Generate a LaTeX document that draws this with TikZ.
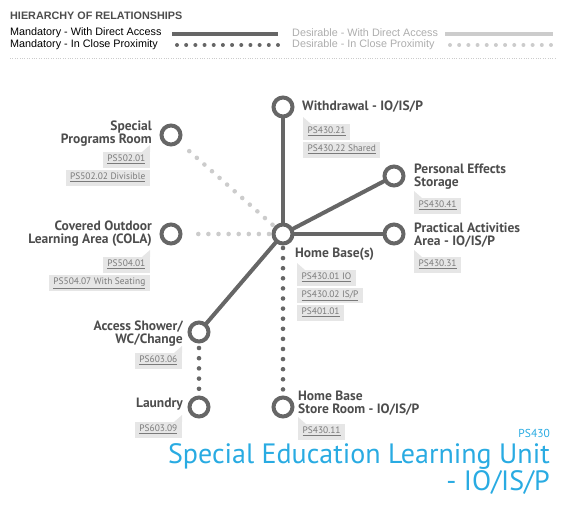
\documentclass[tikz,border=0pt]{standalone}
\usepackage{fontspec}
\usepackage{tikz}
\setmainfont{PT Sans}
\newfontfamily\legendfont{Liberation Sans}
\definecolor{linkgray}{HTML}{666666}
\definecolor{softgray}{HTML}{CCCCCC}
\definecolor{tagfill}{HTML}{E6E6E6}
\definecolor{tagtext}{HTML}{7A7A7A}
\definecolor{labelgray}{HTML}{4D4D4D}
\definecolor{titleblue}{HTML}{29ABE2}
\newcommand{\notchleft}[1]{\fill[tagfill] (#1.north west) -- ++(0,-7) -- ++(8,7) -- cycle;}
\newcommand{\notchright}[1]{\fill[tagfill] (#1.north east) -- ++(0,-7) -- ++(-8,7) -- cycle;}

\begin{document}
\begin{tikzpicture}[x=1pt,y=-1pt,
		room/.style={circle,draw=linkgray,fill=white,line width=4pt,minimum size=19pt,inner sep=0pt},
		roomlabel/.style={inner sep=0pt,text=labelgray,font=\fontsize{13.5}{13}\selectfont\bfseries},
		pstag/.style={fill=tagfill,text=tagtext,inner xsep=4.5pt,inner ysep=0pt,minimum height=15.5pt,text height=6.5pt,text depth=2.5pt,font=\fontsize{9.4}{9.4}\selectfont},
		legendtxt/.style={inner sep=0pt,anchor=west,font=\legendfont\fontsize{10.8}{10.8}\selectfont},
		directlink/.style={draw=linkgray,line width=4pt,shorten <=-2pt,shorten >=-2pt},
		closelink/.style={draw=linkgray,line width=4.6pt,line cap=round,dash pattern=on 0pt off 10.1pt},
		desirelink/.style={draw=softgray,line width=4.6pt,line cap=round,dash pattern=on 0pt off 10.1pt}]
			\useasboundingbox (0,0) rectangle (565,505);
			\node[legendtxt,text=labelgray,font=\legendfont\fontsize{10.8}{10.8}\selectfont\bfseries] (hdr) at (10,16) {HIERARCHY OF RELATIONSHIPS};
			\node[legendtxt,text=black] (mandirect) at (10,33) {Mandatory - With Direct Access};
			\node[legendtxt,text=black] (manclose) at (10,45) {Mandatory - In Close Proximity};
			\node[legendtxt,text=softgray!85!black] (desdirect) at (292,33) {Desirable - With Direct Access};
			\node[legendtxt,text=softgray!85!black] (desclose) at (292,45) {Desirable - In Close Proximity};
			\draw[draw=linkgray,line width=3.5pt] (172,34) -- (278,34);
			\draw[closelink,line width=4pt,dash pattern=on 0pt off 9.18pt] (177,45) -- (278.5,45);
			\draw[draw=softgray,line width=3.5pt] (445,34) -- (553,34);
			\draw[desirelink,line width=4pt,dash pattern=on 0pt off 9.18pt] (450,45) -- (551.5,45);
			\draw[softgray,line width=0.8pt,dash pattern=on 0.8pt off 1.6pt] (10,58) -- (555,58);

			\node[room] (hub) at (283,234) {};
			\node[room] (withdraw) at (283,107) {};
			\node[room] (special) at (171,135) {};
			\node[room] (personal) at (394,176) {};
			\node[room] (cola) at (171,234) {};
			\node[room] (practical) at (394,234) {};
			\node[room] (shower) at (199,332) {};
			\node[room] (laundry) at (199,407) {};
			\node[room] (store) at (283,407) {};

			\draw[directlink] (hub) -- (withdraw);
			\draw[directlink] (hub) -- (personal);
			\draw[directlink] (hub) -- (practical);
			\draw[directlink] (hub) -- (shower);
			\draw[closelink,shorten <=2.5pt,shorten >=6pt] (hub) -- (store);
			\draw[closelink,shorten <=4.5pt,shorten >=6pt,dash pattern=on 0pt off 10.2pt] (shower) -- (laundry);
			\draw[desirelink,shorten <=2.5pt,shorten >=5pt] (hub) -- (special);
			\draw[desirelink,shorten <=2.5pt,shorten >=8pt] (hub) -- (cola);

			\node[roomlabel,anchor=west] (withdrawtxt) at (302,107) {Withdrawal - IO/IS/P};
			\node[roomlabel,anchor=east,align=right] (specialtxt) at (152,134) {Special\\Programs Room};
			\node[roomlabel,anchor=west,align=left] (personaltxt) at (414,176.5) {Personal Effects\\Storage};
			\node[roomlabel,anchor=east,align=right] (colatxt) at (152,233.5) {Covered Outdoor\\Learning Area (COLA)};
			\node[roomlabel,anchor=west,align=left] (practicaltxt) at (414,235.5) {Practical Activities\\Area - IO/IS/P};
			\node[roomlabel,anchor=west] (hubtxt) at (295,254) {Home Base(s)};
			\node[roomlabel,anchor=east,align=right] (showertxt) at (183,334) {Access Shower/\\WC/Change};
			\node[roomlabel,anchor=east] (laundrytxt) at (183,404) {Laundry};
			\node[roomlabel,anchor=west,align=left] (storetxt) at (298,403) {Home Base\\Store Room - IO/IS/P};

			\node[pstag,anchor=north west] (withdrawtag1) at (303,124) {\underline{PS430.21}};
			\node[pstag,anchor=north west] (withdrawtag2) at (303,142) {\underline{PS430.22 Shared}};
			\notchleft{withdrawtag1}
			\node[pstag,anchor=north east] (specialtag1) at (150,152) {\underline{PS502.01}};
			\node[pstag,anchor=north east] (specialtag2) at (150,170) {\underline{PS502.02 Divisible}};
			\notchright{specialtag1}
			\node[pstag,anchor=north west] (personaltag) at (414,198) {\underline{PS430.41}};
			\notchleft{personaltag}
			\node[pstag,anchor=north east] (colatag1) at (150,257) {\underline{PS504.01}};
			\node[pstag,anchor=north east] (colatag2) at (150,275) {\underline{PS504.07 With Seating}};
			\notchright{colatag1}
			\node[pstag,anchor=north west] (practicaltag) at (414,257) {\underline{PS430.31}};
			\notchleft{practicaltag}
			\node[pstag,anchor=north west] (hubtag1) at (297,270) {\underline{PS430.01 IO}};
			\node[pstag,anchor=north west] (hubtag2) at (297,287.5) {\underline{PS430.02 IS/P}};
			\node[pstag,anchor=north west] (hubtag3) at (297,305) {\underline{PS401.01}};
			\notchleft{hubtag1}
			\node[pstag,anchor=north east] (showertag) at (182,353) {\underline{PS603.06}};
			\notchright{showertag}
			\node[pstag,anchor=north east] (laundrytag) at (182,422) {\underline{PS603.09}};
			\notchright{laundrytag}
			\node[pstag,anchor=north west] (storetag) at (298,424) {\underline{PS430.11}};
			\notchleft{storetag}

			\node[anchor=east,inner sep=0pt,text=titleblue,font=\fontsize{11.5}{11.5}\selectfont] (unitcode) at (550,433) {PS430};
			\node[anchor=north east,align=right,inner sep=0pt,text=titleblue,font=\fontsize{28}{26.5}\selectfont] (unittitle) at (550,443.5) {Special Education Learning Unit\\- IO/IS/P};
		\end{tikzpicture}
\end{document}
